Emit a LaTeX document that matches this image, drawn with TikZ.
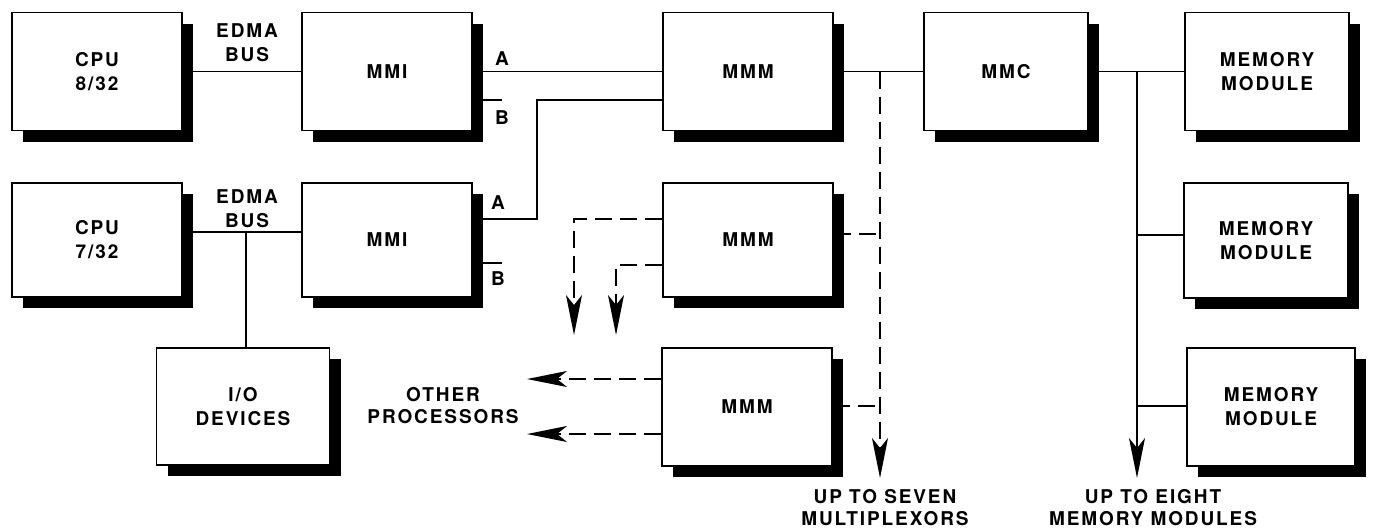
\documentclass[tikz,border=0pt]{standalone}
\usepackage{fontspec}
\newfontfamily\labfont{TeX Gyre Heros}[LetterSpace=10]
\usetikzlibrary{arrows.meta,shadows}
\tikzset{
  txt/.style={font=\labfont\bfseries\fontsize{19}{24}\selectfont, align=center, inner sep=0pt},
  tight/.style={font=\labfont\bfseries\fontsize{19}{22}\selectfont},
  blk/.style={txt, draw, line width=1.8pt, fill=white, minimum width=170pt, minimum height=118pt,
    drop shadow={shadow xshift=11pt, shadow yshift=-11pt, opacity=1, fill=black}},
  wire/.style={line width=1.4pt},
  dsh/.style={wire, dash pattern=on 17pt off 8pt},
  tip/.style={-{Stealth[length=40pt,width=16pt,inset=10pt]}}
}
\begin{document}
\begin{tikzpicture}[x=1pt,y=-1pt]
\useasboundingbox (0,0) rectangle (1373,531);
% boxes
\node[blk] (cpu1) at (97,71.5) {CPU\\8/32};
\node[blk] (mmi1) at (387,71.5) {MMI};
\node[blk] (mmm1) at (748,71.5) {MMM};
\node[blk, minimum width=164pt] (mmc) at (1006,71.5) {MMC};
\node[blk, minimum width=164pt] (mem1) at (1267,71.5) {MEMORY\\MODULE};
\node[blk, minimum height=114pt] (cpu2) at (97,240) {CPU\\7/32};
\node[blk, minimum height=114pt] (mmi2) at (387,240) {MMI};
\node[blk, minimum height=114pt] (mmm2) at (748,240) {MMM};
\node[blk, minimum width=164pt, minimum height=115pt] (mem2) at (1266,240.5) {MEMORY\\MODULE};
\node[blk, minimum width=173pt, minimum height=117pt] (io) at (243,406.5) {I/O\\DEVICES};
\node[blk] (mmm3) at (747,407) {MMM};
\node[blk, minimum width=168pt] (mem3) at (1271,407) {MEMORY\\MODULE};
% labels
\node[txt] (edma1) at (247,42.5) {EDMA\\BUS};
\node[txt] (edma2) at (247,209) {EDMA\\BUS};
\node[txt] (la1) at (502,59) {A};
\node[txt] (lb1) at (502,118) {B};
\node[txt] (la2) at (498,203) {A};
\node[txt] (lb2) at (498,279) {B};
\node[txt, tight] (other) at (443,405.5) {OTHER\\PROCESSORS};
\node[txt, tight] (seven) at (885,508) {UP TO SEVEN\\MULTIPLEXORS};
\node[txt, tight] (eight) at (1153,508) {UP TO EIGHT\\MEMORY MODULES};
% helper coordinates
\coordinate (yB1) at (0,100);
\coordinate (yA2) at (0,219);
\coordinate (yB2) at (0,263);
\coordinate (yE2) at (0,232);
\coordinate (yR2) at (0,234);
\coordinate (yR3) at (0,406);
\coordinate (yL2) at (0,265);
\coordinate (yL3) at (0,379);
\coordinate (yL4) at (0,434);
\coordinate (yM2) at (0,235);
\coordinate (stubx) at (502,0);
\coordinate (jog) at (537,0);
\coordinate (iox) at (246,0);
\coordinate (mux) at (880,71.5);
\coordinate (muxend) at (880,478);
\coordinate (membus) at (1137,71.5);
\coordinate (membusend) at (1137,478);
\coordinate (down1) at (574,335);
\coordinate (down2) at (616,335);
\coordinate (left1) at (527,379);
\coordinate (left2) at (527,434);
% solid connectors
\draw[wire] (cpu1.east) -- (mmi1.west);
\draw[wire] (mmi1.east) -- (mmm1.west);
\draw[wire] (mmi1.east |- yB1) -- (stubx |- yB1);
\draw[wire] (mmi2.east |- yA2) -| (jog |- yB1) -- (mmm1.west |- yB1);
\draw[wire] (mmi2.east |- yB2) -- (stubx |- yB2);
\draw[wire] (cpu2.east |- yE2) -- (mmi2.west |- yE2);
\draw[wire] (iox |- yE2) -- (iox |- io.north);
\draw[wire] (mmm1.east) -- (mmc.west);
\draw[wire] (mmc.east) -- (mem1.west);
\draw[wire, tip] (membus) -- (membusend);
\draw[wire] (membus |- yM2) -- (mem2.west |- yM2);
\draw[wire] (membus |- yR3) -- (mem3.west |- yR3);
% dashed connectors
\draw[dsh, tip] (mux) -- (muxend);
\draw[dsh] (mmm2.east |- yR2) -- (mux |- yR2);
\draw[dsh] (mmm3.east |- yR3) -- (mux |- yR3);
\draw[dsh, tip] (mmm2.west |- yA2) -| (down1);
\draw[dsh, tip] (mmm2.west |- yL2) -| (down2);
\draw[dsh, tip] (mmm3.west |- yL3) -- (left1);
\draw[dsh, tip] (mmm3.west |- yL4) -- (left2);
\end{tikzpicture}
\end{document}
